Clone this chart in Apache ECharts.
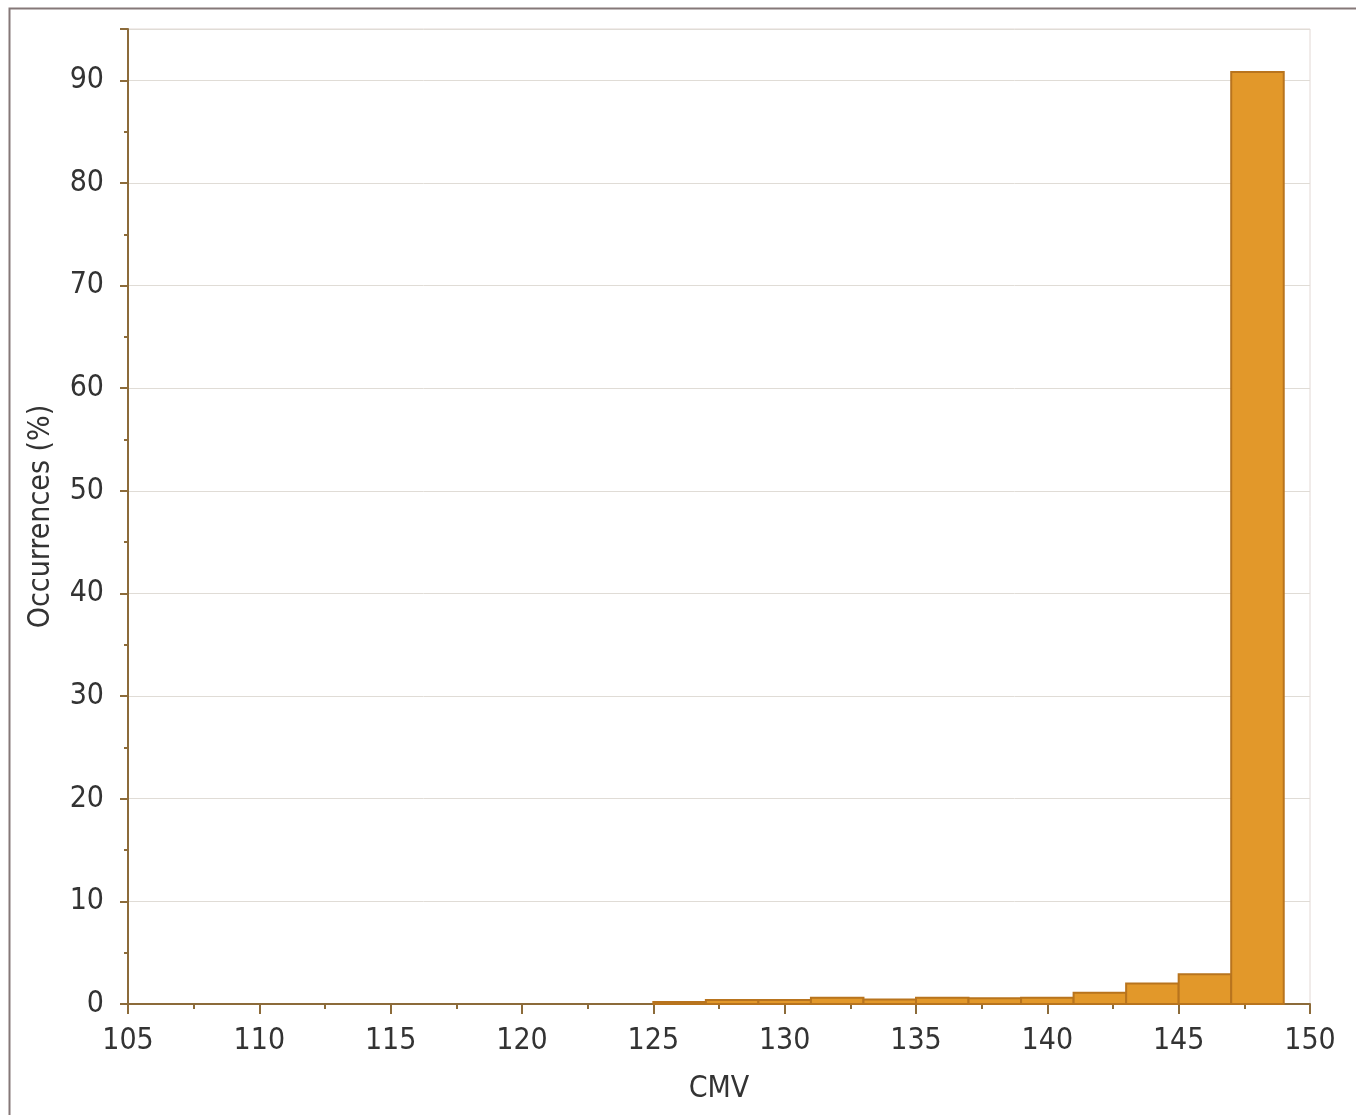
<!DOCTYPE html>
<html><head><meta charset="utf-8">
<script src="https://cdn.jsdelivr.net/npm/echarts@6/dist/echarts.min.js"></script>
<style>html,body{margin:0;padding:0;background:#fff}#c{width:1356px;height:1115px}</style>
</head><body><div id="c"></div>
<script>
// histogram bins (CMV) and occurrences (%)
const binStarts = [125, 127, 129, 131, 133, 135, 137, 139, 141, 143, 145, 147];
const binWidth = 2;
const occurrences = [0.2, 0.4, 0.4, 0.6, 0.45, 0.6, 0.55, 0.6, 1.1, 2.0, 2.9, 90.8];
const xTitle = 'CMV';
const yTitle = 'Occurrences (%)';

const data = binStarts.map((s, i) => [s, s + binWidth, occurrences[i]]);
const FONT = '"Liberation Sans Narrow", "DejaVu Sans Condensed", "DejaVu Sans", sans-serif';
const axisColor = '#8c6b3a';

const chart = echarts.init(document.getElementById('c'));
chart.setOption({
  animation: false,
  backgroundColor: '#fff',
  graphic: [{
    type: 'rect', shape: { x: 9.5, y: 8.5, width: 1400, height: 1200 },
    style: { fill: 'none', stroke: '#857878', lineWidth: 2 }, z: 100
  }, {
    type: 'rect', shape: { x: 128, y: 29, width: 1182, height: 975 },
    style: { fill: 'none', stroke: '#e2d8d4', lineWidth: 1 }, z: -1
  }],
  grid: { left: 128, right: 46, top: 29, bottom: 111, containLabel: false },
  xAxis: {
    type: 'value', min: 105, max: 150, interval: 5,
    name: xTitle, nameLocation: 'middle', nameGap: 70,
    nameTextStyle: { fontFamily: FONT, fontSize: 30, color: '#333' },
    axisLine: { show: true, lineStyle: { color: axisColor, width: 2 } },
    axisTick: { show: true, length: 10, lineStyle: { color: axisColor, width: 2 } },
    minorTick: { show: true, splitNumber: 2, length: 5, lineStyle: { color: axisColor, width: 2 } },
    axisLabel: { fontFamily: FONT, fontSize: 30, color: '#333', margin: 22 },
    splitLine: { show: false }
  },
  yAxis: {
    type: 'value', min: 0, max: 95, interval: 10,
    name: yTitle, nameLocation: 'middle', nameGap: 72,
    nameTextStyle: { fontFamily: FONT, fontSize: 30, color: '#333' },
    axisLine: { show: true, lineStyle: { color: axisColor, width: 2 } },
    axisTick: { show: true, length: 8, lineStyle: { color: axisColor, width: 2 } },
    minorTick: { show: true, splitNumber: 2, length: 4, lineStyle: { color: axisColor, width: 2 } },
    axisLabel: { fontFamily: FONT, fontSize: 30, color: '#333', margin: 24, showMaxLabel: false },
    splitLine: { show: true, lineStyle: { color: '#e0dcd6', width: 1 } }
  },
  series: [{
    type: 'custom',
    data: data,
    encode: { x: [0, 1], y: 2 },
    renderItem: function (params, api) {
      const p0 = api.coord([api.value(0), api.value(2)]);
      const p1 = api.coord([api.value(1), 0]);
      return {
        type: 'rect',
        shape: { x: p0[0], y: p0[1], width: p1[0] - p0[0], height: p1[1] - p0[1] },
        style: { fill: '#e2982a', stroke: '#b8741e', lineWidth: 2 }
      };
    }
  }]
});
</script></body></html>
